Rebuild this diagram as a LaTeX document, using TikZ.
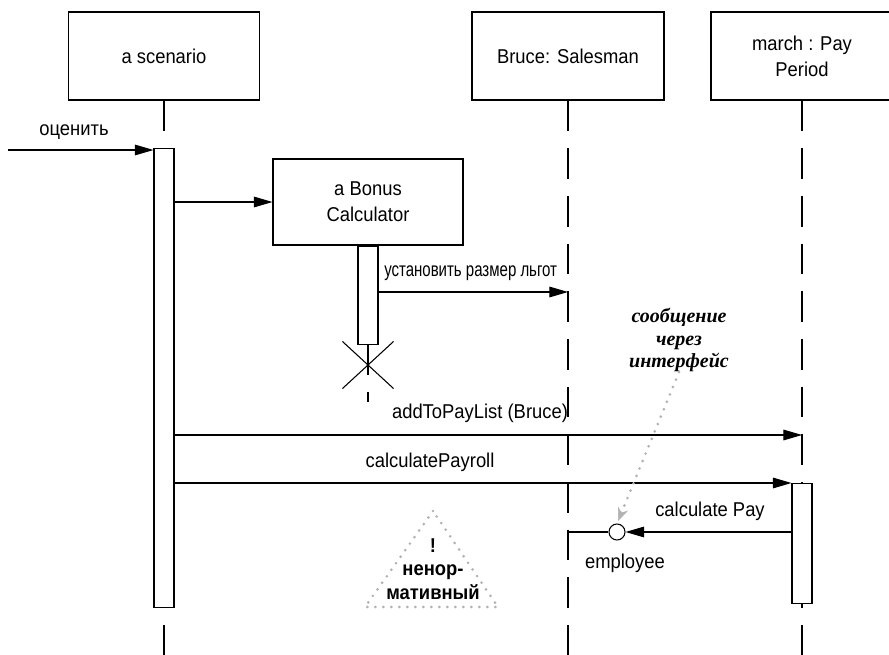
\documentclass[tikz,border=0pt]{standalone}
\usepackage{fontspec}
\setmainfont{Liberation Sans}[FakeStretch=0.92]
\newfontfamily\narrowfont{Liberation Sans}[FakeStretch=0.75]
\newfontfamily\notefont{Liberation Serif}
\usetikzlibrary{arrows.meta,shapes.misc}

\begin{document}
\begin{tikzpicture}[x=0.75pt,y=-0.75pt]
  \tikzset{BoxStyle/.style={draw,line width=0.8pt,fill=white,align=center,inner sep=0pt,
      font=\fontsize{15pt}{19.5pt}\selectfont},
    ActStyle/.style={draw,line width=0.8pt,fill=white,minimum width=15pt,inner sep=0pt,anchor=north},
    LifeStyle/.style={line width=0.8pt,dash pattern=on 23pt off 12.75pt},
    MsgStyle/.style={line width=0.8pt,-{Triangle[length=14pt,width=8pt]}},
    NoteStyle/.style={gray!60,line width=2.2pt,line cap=round,dash pattern=on 0pt off 6pt},
    LabelStyle/.style={inner sep=0pt,font=\fontsize{15pt}{18pt}\selectfont}
  }
  \fill[white] (0,0) rectangle (889,655);
  \useasboundingbox (0,0) rectangle (889,655);
  \coordinate (bottom) at (0,655);
  % objects and lifelines
  \node[BoxStyle,minimum width=143.25pt,minimum height=66pt] (scen) at (164,56) {a scenario};
  \node[BoxStyle,minimum width=144pt,minimum height=66pt] (bruce) at (568,56) {Bruce: Salesman};
  \node[BoxStyle,minimum width=136.5pt,minimum height=66pt] (march) at (802,56) {march : Pay\\Period};
  \draw[LifeStyle] (scen.south) -- (scen.south |- bottom);
  \draw[LifeStyle] (bruce.south) -- (bruce.south |- bottom);
  \draw[LifeStyle] (march.south) -- (march.south |- bottom);
  \node[ActStyle,minimum height=344.25pt] (sact) at (164,148) {};
  \node[BoxStyle,minimum width=142.5pt,minimum height=64.5pt] (bonus) at (368,202) {a Bonus\\Calculator};
  \node[ActStyle,minimum height=73.5pt] (bact) at (bonus.south) {};
  \coordinate (bend) at (0,402);
  \draw[LifeStyle] (bact.south) -- (bact.south |- bend);
  \node[draw,cross out,line width=0.8pt,minimum width=37.5pt,minimum height=34.5pt,inner sep=0pt] (kill) at (368,365) {};
  \node[ActStyle,minimum height=90pt] (mact) at (802,483) {};
  % messages
  \coordinate (start) at (8,150);
  \draw[MsgStyle] (start) -- (start -| sact.west);
  \node[LabelStyle] (eval) at (74,132) {оценить};
  \draw[MsgStyle] (sact.east |- bonus.west) -- (bonus.west);
  \coordinate (m3) at (0,292);
  \draw[MsgStyle] (bact.east |- m3) -- (bruce.south |- m3);
  \node[LabelStyle,font=\narrowfont\fontsize{15pt}{18pt}\selectfont,anchor=west] (sizelbl) at (384,273) {установить размер льгот};
  \coordinate (m4) at (0,435);
  \draw[MsgStyle] (sact.east |- m4) -- (march.south |- m4);
  \node[LabelStyle] (addlbl) at (480,413) {addToPayList (Bruce)};
  \draw[MsgStyle] (sact.east |- mact.north) -- (mact.north west);
  \node[LabelStyle] (payrolllbl) at (430,462) {calculatePayroll};
  \node[draw,circle,line width=0.8pt,fill=white,minimum size=12pt,inner sep=0pt] (iface) at (617,532) {};
  \draw[MsgStyle] (mact.west |- iface) -- (iface.east);
  \draw[line width=0.8pt] (bruce.south |- iface) -- (iface.west);
  \node[LabelStyle] (paylbl) at (710,511) {calculate Pay};
  \node[LabelStyle] (emp) at (625,563) {employee};
  % notes
  \node[align=center,inner sep=0pt,font=\notefont\bfseries\itshape\fontsize{15pt}{17pt}\selectfont] (note) at (679,340) {сообщение\\через\\интерфейс};
  \draw[NoteStyle,-{Stealth[length=10pt,width=8pt,line width=0.4pt]},shorten >=2pt] (note.south) -- (iface.north);
  \draw[NoteStyle] (433,511) -- (365,607) -- (498,607) -- cycle;
  \node[align=center,inner sep=0pt,font=\bfseries\fontsize{15pt}{17.5pt}\selectfont] (warn) at (433,569) {!\\ненор-\\мативный};
\end{tikzpicture}
\end{document}
